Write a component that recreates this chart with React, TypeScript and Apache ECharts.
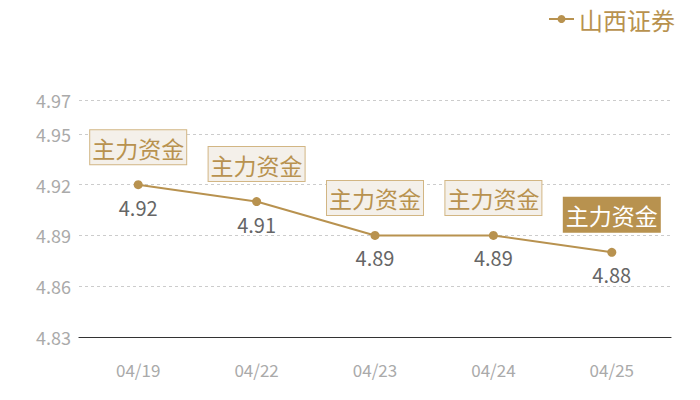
import * as echarts from 'echarts';
import { useEffect, useRef } from 'react';

const dates = ['04/19', '04/22', '04/23', '04/24', '04/25'];
const prices = [4.92, 4.91, 4.89, 4.89, 4.88];
const tagText = '主力资金';
const seriesName = '山西证券';

const GOLD = '#b8924f';
const FONT = '"Noto Sans CJK SC", "Noto Sans", sans-serif';

export default function App() {
  const chartRef = useRef<HTMLDivElement>(null);

  useEffect(() => {
    if (!chartRef.current) return;
    document.body.style.margin = '0';
    const chart = echarts.init(chartRef.current, undefined, { renderer: 'svg' });

    const tagData = prices.map((v, i) => {
      const last = i === prices.length - 1;
      return {
        value: v,
        label: last
          ? { backgroundColor: GOLD, borderColor: GOLD, color: '#fff' }
          : undefined,
      };
    });

    chart.setOption({
      animation: false,
      textStyle: { fontFamily: FONT },
      legend: {
        data: [seriesName],
        right: 20,
        top: 2,
        itemWidth: 25,
        itemHeight: 10,
        itemGap: 7,
        textStyle: { color: GOLD, fontSize: 24, fontFamily: FONT },
      },
      grid: { left: 79, right: 29, top: 100, bottom: 63 },
      xAxis: {
        type: 'category',
        data: dates,
        boundaryGap: true,
        axisLine: { lineStyle: { color: '#333', width: 1.2 } },
        axisTick: { show: false },
        axisLabel: { color: '#aaa', fontSize: 17, margin: 24, fontFamily: FONT },
      },
      yAxis: {
        type: 'value',
        min: 4.83,
        max: 4.97,
        interval: 0.03,
        axisLine: { show: false },
        axisTick: { show: false },
        axisLabel: {
          color: '#aaa',
          fontSize: 18,
          margin: 8,
          fontFamily: FONT,
          formatter: (v: number) => v.toFixed(2),
        },
        splitLine: { lineStyle: { color: '#ccc', type: [3, 3] } },
      },
      series: [
        {
          name: seriesName,
          type: 'line',
          data: prices,
          symbol: 'circle',
          symbolSize: 9,
          itemStyle: { color: GOLD },
          lineStyle: { color: GOLD, width: 2 },
          z: 3,
          label: {
            show: true,
            position: 'bottom',
            distance: 8,
            color: '#666',
            fontSize: 20,
            fontFamily: FONT,
            formatter: (p: any) => Number(p.value).toFixed(2),
          },
        },
        {
          name: 'tag',
          type: 'line',
          data: tagData,
          symbol: 'circle',
          symbolSize: 1,
          showSymbol: true,
          itemStyle: { color: 'rgba(0,0,0,0)' },
          lineStyle: { opacity: 0 },
          silent: true,
          z: 2,
          label: {
            show: true,
            position: 'top',
            distance: 20,
            formatter: tagText,
            color: GOLD,
            fontSize: 23,
            fontFamily: FONT,
            backgroundColor: '#f4f0ea',
            borderColor: '#d2b684',
            borderWidth: 1,
            padding: [6, 2, 5, 2],
          },
          labelLayout: { hideOverlap: false },
        },
      ],
    });

    return () => {
      chart.dispose();
    };
  }, []);

  return <div ref={chartRef} style={{ width: '700px', height: '400px' }} />;
}
